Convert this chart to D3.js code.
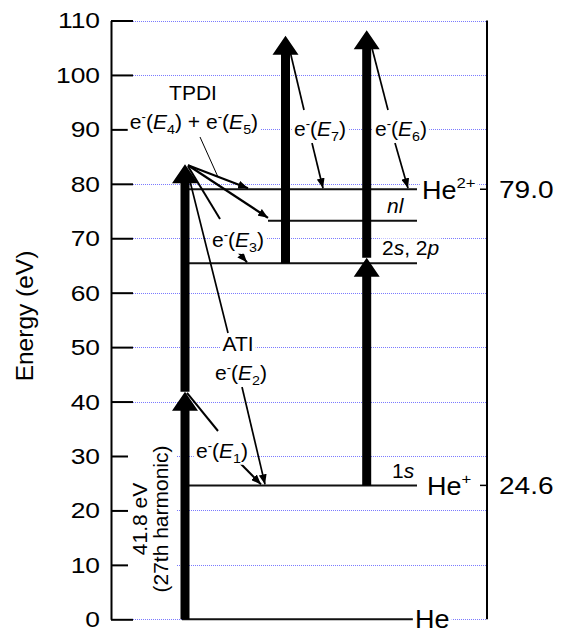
<!DOCTYPE html>
<html><head><meta charset="utf-8">
<script src="https://cdn.jsdelivr.net/npm/d3@7/dist/d3.min.js"></script>
<style>
body{margin:0;background:#fff}
svg{display:block}
text{font-family:"Liberation Sans",Arial,Helvetica,sans-serif;fill:#000}
</style>
</head><body>
<svg id="chart" width="561" height="630"></svg>
<script>
// ---------------- data ----------------
const yTickValues = [0, 10, 20, 30, 40, 50, 60, 70, 80, 90, 100, 110];
const levelNames = ["He", "He+", "2s, 2p", "nl", "He2+"];
const levelEnergies = [0, 24.6, 65.4, 73.2, 79.0];
const thresholdLabels = ["24.6", "79.0"];
const thresholdValues = [24.6, 79.0];
const photonEnergy = 41.8;
const photonLabel = ["41.8 eV", "(27th harmonic)"];
// photon absorption steps (energies, eV)
const stepFrom = [0, 41.8, 65.4, 24.6, 66.4];
const stepTo = [41.8, 83.6, 107.2, 66.4, 108.2];
const stepColumn = [0, 0, 1, 2, 2];
const electronLabels = ["E1", "E2", "E3", "E4", "E5", "E6", "E7"];

// ---------------- layout ----------------
const svg = d3.select("#chart");
const axisX = 111, rightX = 487;
const y = d3.scaleLinear().domain([0, 110]).range([619.3, 20.5]);
const colX = [185, 285.5, 366.7];

// gridlines
svg.append("g").selectAll("line").data(yTickValues).join("line")
  .attr("x1", 133).attr("x2", rightX)
  .attr("y1", d => Math.round(y(d)) + 0.5).attr("y2", d => Math.round(y(d)) + 0.5)
  .attr("shape-rendering", "crispEdges")
  .attr("stroke", "#7a7aff").attr("stroke-width", 1).attr("stroke-dasharray", "1,1");

// left axis
const axis = d3.axisLeft(y).tickValues(yTickValues).tickSizeInner(-22).tickSizeOuter(0).tickPadding(11);
const ag = svg.append("g").attr("transform", `translate(${axisX},0)`).call(axis);
ag.select(".domain").attr("stroke", "#000").attr("stroke-width", 2);
ag.selectAll(".tick line").attr("stroke", "#000").attr("stroke-width", 2);
ag.selectAll(".tick text").attr("font-size", 22).attr("font-family", "Liberation Sans, Arial, sans-serif")
  .attr("x", -11 / 1.2).attr("transform", "scale(1.2,1)").attr("dy", "0.34em");

// right axis line
svg.append("line").attr("x1", rightX).attr("x2", rightX).attr("y1", y(0)).attr("y2", y(110))
  .attr("stroke", "#000").attr("stroke-width", 2);
svg.append("g").selectAll("line").data(thresholdValues).join("line")
  .attr("x1", 480).attr("x2", rightX).attr("y1", d => y(d)).attr("y2", d => y(d))
  .attr("stroke", "#000").attr("stroke-width", 1.5);

// level lines
const levelX1 = [182, 188, 188, 268, 188];
const levelX2 = [413, 417, 417, 417, 417];
svg.append("g").selectAll("line").data(levelEnergies).join("line")
  .attr("x1", (d, i) => levelX1[i]).attr("x2", (d, i) => levelX2[i])
  .attr("y1", d => y(d)).attr("y2", d => y(d))
  .attr("stroke", "#111").attr("stroke-width", 2);

// thick photon arrows
const shaftW = 9, headW = 26, headL = 19;
svg.append("g").selectAll("path").data(stepFrom).join("path")
  .attr("d", (d, i) => {
    const x = colX[stepColumn[i]], y0 = y(d), yt = y(stepTo[i]), yb = yt + headL;
    return `M${x - shaftW / 2},${y0}L${x - shaftW / 2},${yb}L${x - headW / 2},${yb}L${x},${yt}L${x + headW / 2},${yb}L${x + shaftW / 2},${yb}L${x + shaftW / 2},${y0}Z`;
  })
  .attr("fill", "#000");

// arrow marker
const defs = svg.append("defs");
defs.append("marker").attr("id", "ah").attr("markerUnits", "userSpaceOnUse")
  .attr("markerWidth", 11).attr("markerHeight", 8).attr("refX", 10).attr("refY", 4)
  .attr("orient", "auto")
  .append("path").attr("d", "M0,0L10,4L0,8Z").attr("fill", "#000");

// electron emission lines: [x1,y1,x2,y2,width,arrow]
const tip = i => [colX[stepColumn[i]], y(stepTo[i])];
const segs = [
  // E1
  [tip(0)[0] + 2, tip(0)[1] + 1, 218, 431, 2, false],
  [240, 463, 261, y(24.6) - 1, 2, true],
  // E2 (ATI)
  [tip(1)[0] + 2, tip(1)[1] + 5, 228, 333, 1.7, false],
  [242, 387, 265, y(24.6) - 1, 1.7, true],
  // E3
  [tip(1)[0] + 3, tip(1)[1] + 2, 220, 219, 2, false],
  [238, 252, 247, y(65.4) - 1, 2, true],
  // TPDI fan
  [tip(1)[0] + 3, tip(1)[1] + 1, 248, y(79.0) - 1, 2.2, true],
  [tip(1)[0] + 3, tip(1)[1] + 1, 268, y(73.2) - 3, 2.2, true],
  [200, 137, 218, 177, 1, false],
  // E7
  [tip(2)[0] + 3, tip(2)[1] + 9, 304, 110, 1.7, false],
  [312, 143, 323, y(79.0) - 1, 1.7, true],
  // E6
  [tip(4)[0] + 3, tip(4)[1] + 9, 388, 110, 1.7, false],
  [395, 143, 408, y(79.0) - 1, 1.7, true]
];
svg.append("g").selectAll("line").data(segs).join("line")
  .attr("x1", d => d[0]).attr("y1", d => d[1]).attr("x2", d => d[2]).attr("y2", d => d[3])
  .attr("stroke", "#000").attr("stroke-width", d => d[4])
  .attr("marker-end", d => d[5] ? "url(#ah)" : null);

// ---------------- text helpers ----------------
function rich(g, parts, size) {
  const t = g.append("text").attr("font-size", size);
  let shift = 0;
  parts.forEach(p => {
    let target = 0, fs = null;
    if (p.sup) { target = -0.42 * size; fs = size * 0.62; }
    if (p.sub) { target = 0.25 * size; fs = size * 0.68; }
    const ts = t.append("tspan").text(p.t).attr("dy", target - shift);
    shift = target;
    if (fs) ts.attr("font-size", fs);
    if (p.it) ts.attr("font-style", "italic");
  });
  return t;
}
function label(x, yb, parts, opts) {
  const o = Object.assign({size: 20, anchor: "middle", sx: 1, bg: true, rot: 0}, opts || {});
  const g = svg.append("g").attr("transform", `translate(${x},${yb}) rotate(${o.rot}) scale(${o.sx},1)`);
  const t = rich(g, parts, o.size).attr("text-anchor", o.anchor);
  if (o.bg) {
    const b = g.node().getBBox();
    g.insert("rect", "text").attr("x", b.x - 2).attr("y", b.y + 2).attr("width", b.width + 4).attr("height", b.height - 3)
      .attr("fill", "#fff");
  }
  return g;
}
const eLab = k => [{t: "e"}, {t: "-", sup: true}, {t: "("}, {t: "E", it: true}, {t: electronLabels[k].slice(1), sub: true}, {t: ")"}];

// annotations
label(193, 100, [{t: "TPDI"}], {size: 20, sx: 1.05, bg: false});
label(194, 129, [...eLab(3), {t: " + "}, ...eLab(4)], {size: 19.5, sx: 1.08});
label(320, 136, eLab(6), {size: 19.5, sx: 1.08});
label(401, 136, eLab(5), {size: 19.5, sx: 1.08});
label(238, 247, eLab(2), {size: 19.5, sx: 1.08});
label(238, 351, [{t: "ATI"}], {size: 20, sx: 1.05});
label(241, 380, eLab(1), {size: 19.5, sx: 1.08});
label(222, 458, eLab(0), {size: 19.5, sx: 1.08});

// level labels
label(392, 478, [{t: "1"}, {t: "s", it: true}], {size: 20, anchor: "start", sx: 1.05, bg: false});
label(387, 213, [{t: "nl", it: true}], {size: 20, anchor: "start", sx: 1.05, bg: false});
label(382, 255, [{t: "2"}, {t: "s", it: true}, {t: ", 2"}, {t: "p", it: true}], {size: 20, anchor: "start", sx: 1.05});
label(415, y(levelEnergies[0]) + 8.5, [{t: levelNames[0]}], {size: 25, anchor: "start", sx: 1.08});
label(427, y(levelEnergies[1]) + 9.5, [{t: "He"}, {t: "+", sup: true}], {size: 25, anchor: "start", sx: 1.08});
label(422, y(levelEnergies[4]) + 9.5, [{t: "He"}, {t: "2+", sup: true}], {size: 25, anchor: "start", sx: 1.08});
thresholdValues.forEach((v, i) => {
  label(499, y(v) + 9, [{t: thresholdLabels[i]}], {size: 24, anchor: "start", sx: 1.17, bg: false});
});

// photon label (rotated)
const pg = svg.append("g").attr("transform", "translate(147,519) rotate(-90)");
pg.append("text").attr("font-size", 21).attr("text-anchor", "middle").text(photonLabel[0]);
pg.append("text").attr("font-size", 21).attr("text-anchor", "middle").attr("y", 21).text(photonLabel[1]);
const pb = pg.node().getBBox();
pg.insert("rect", "text").attr("x", pb.x - 3).attr("y", pb.y).attr("width", pb.width + 6).attr("height", pb.height + 4).attr("fill", "#fff");

// y axis title
svg.append("text").attr("transform", "translate(33,316) rotate(-90)")
  .attr("text-anchor", "middle").attr("font-size", 24.5).text("Energy (eV)");
</script>
</body></html>
